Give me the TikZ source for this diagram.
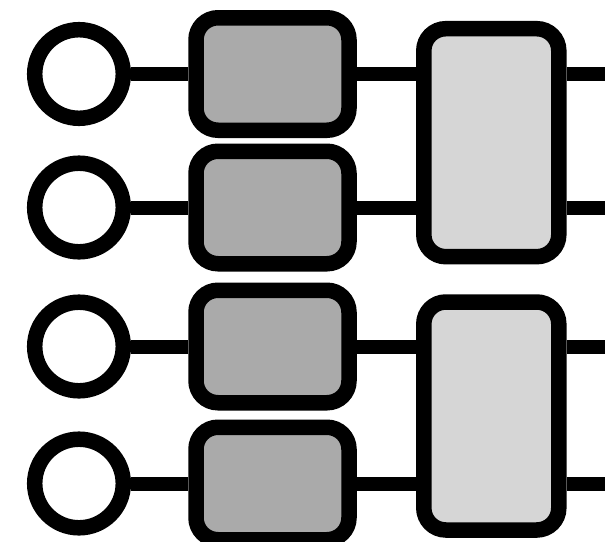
\documentclass[tikz,border=0pt]{standalone}
\usetikzlibrary{calc}
\definecolor{boxdark}{RGB}{170,170,170}
\definecolor{boxlight}{RGB}{214,214,214}
\tikzset{
  port/.style={circle, draw=black, fill=white, line width=15.5pt, minimum size=88.6pt, inner sep=0pt},
  gate/.style={rectangle, draw=black, fill=boxdark, line width=15.5pt, rounded corners=22pt, minimum width=153pt, minimum height=112.5pt, inner sep=0pt},
  block/.style={rectangle, draw=black, fill=boxlight, line width=15.5pt, rounded corners=22pt, minimum width=135pt, minimum height=228pt, inner sep=0pt},
  wire/.style={draw=black, line width=14pt}
}
\begin{document}
\begin{tikzpicture}[x=1pt,y=-1pt]
\useasboundingbox (0,0) rectangle (605,541);
% ports
\node[port] (c1) at (79,74) {};
\node[port] (c2) at (79,207.5) {};
\node[port] (c3) at (79,346.5) {};
\node[port] (c4) at (79,483.5) {};
% gates
\node[gate] (d1) at (272.5,74) {};
\node[gate] (d2) at (272.5,207.5) {};
\node[gate] (d3) at (272.5,346.5) {};
\node[gate] (d4) at (272.5,483.5) {};
% blocks
\node[block] (l1) at (491.3,142.7) {};
\node[block] (l2) at (491.3,416) {};
% free ends
\coordinate (o1) at (605,74);
\coordinate (o2) at (605,207.5);
\coordinate (o3) at (605,346.5);
\coordinate (o4) at (605,483.5);
% wires
\draw[wire] (c1) -- (d1);
\draw[wire] (c2) -- (d2);
\draw[wire] (c3) -- (d3);
\draw[wire] (c4) -- (d4);
\draw[wire] (d1.east) -- (d1.east -| l1.west);
\draw[wire] (d2.east) -- (d2.east -| l1.west);
\draw[wire] (d3.east) -- (d3.east -| l2.west);
\draw[wire] (d4.east) -- (d4.east -| l2.west);
\draw[wire] (o1 -| l1.east) -- (o1);
\draw[wire] (o2 -| l1.east) -- (o2);
\draw[wire] (o3 -| l2.east) -- (o3);
\draw[wire] (o4 -| l2.east) -- (o4);
\end{tikzpicture}
\end{document}
